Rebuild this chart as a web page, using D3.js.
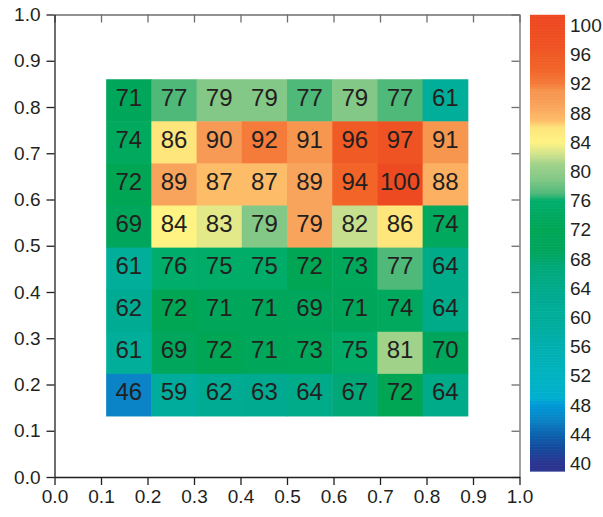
<!DOCTYPE html>
<html><head><meta charset="utf-8">
<script src="https://cdn.jsdelivr.net/npm/d3@7"></script>
<style>
html,body{margin:0;padding:0;background:#fff;}
text{font-family:"Liberation Sans",Arial,Helvetica,sans-serif;fill:#231f20;}
</style></head>
<body>
<svg id="chart" width="603" height="517"></svg>
<script>
// Cell labels (rows top to bottom, columns left to right)
const cellLabels = [
  [71,77,79,79,77,79,77,61],
  [74,86,90,92,91,96,97,91],
  [72,89,87,87,89,94,100,88],
  [69,84,83,79,79,82,86,74],
  [61,76,75,75,72,73,77,64],
  [62,72,71,71,69,71,74,64],
  [61,69,72,71,73,75,81,70],
  [46,59,62,63,64,67,72,64]
];
// Values used for colouring (as drawn in the reference)
const cellColorValues = [
  [71,77,79,79,77,79,77,61],
  [74,86,90,92,91,96,97,91],
  [72,89,87,87,89,94,100,88],
  [69,84,83,79,89,82,86,74],
  [61,76,75,75,72,73,77,64],
  [62,72,71,71,69,71,74,64],
  [61,69,72,71,73,75,81,70],
  [46,59,62,63,64,67,72,64]
];
const axisTicks = [0,0.1,0.2,0.3,0.4,0.5,0.6,0.7,0.8,0.9,1.0];
const colorbarTicks = [40,44,48,52,56,60,64,68,72,76,80,84,88,92,96,100];
const colorStops = [40,42,44,46,48,49,52,56,59,61,62,63,64,67,69,71,72,73,74,75,76,77,79,81,82,83,84,86,87,88,89,90,91,92,94,96,97,100];
const colorHex = ["#2b3590","#16489c","#0b62ae","#0a84c6","#0098d6","#00b0d0","#00b3c0","#00b0b0","#00ad9d","#00ae99","#00ab94","#00aa90","#00ab8a","#00a878","#00a65c","#00a65a","#00a654","#00a85c","#00a95e","#00ad68","#00ad6a","#4fb97a","#83c886","#a0d28a","#c5df8e","#e3e888","#fff383","#fee57c","#fdbd68","#fcb062","#f9a45c","#f79a55","#f7974f","#f47b3a","#f26428","#f05a25","#ef5323","#ee4a22"];
// Heatmap extent in data units
const cellX0 = 1/9, cellX1 = 8/9, cellY0 = 0.132, cellY1 = 0.86;

const svg = d3.select("#chart");
const x = d3.scaleLinear().domain([0,1]).range([54.5,519.5]);
const y = d3.scaleLinear().domain([0,1]).range([477,14.5]);
const color = d3.scaleLinear().domain(colorStops).range(colorHex).interpolate(d3.interpolateRgb).clamp(true);

const nR = cellLabels.length, nC = cellLabels[0].length;
const cw = (cellX1-cellX0)/nC, ch = (cellY1-cellY0)/nR;
const cells = [];
cellLabels.forEach((row,r)=>row.forEach((v,c)=>cells.push({r,c,v,cv:cellColorValues[r][c]})));

const g = svg.append("g");
g.selectAll("rect.cell").data(cells).join("rect")
  .attr("class","cell")
  .attr("x",d=>x(cellX0+d.c*cw))
  .attr("y",d=>y(cellY1-d.r*ch))
  .attr("width",d=>x(cellX0+(d.c+1)*cw)-x(cellX0+d.c*cw)+0.5)
  .attr("height",d=>y(cellY1-(d.r+1)*ch)-y(cellY1-d.r*ch)+0.5)
  .attr("fill",d=>color(d.cv));
g.selectAll("text.cell").data(cells).join("text")
  .attr("class","cell")
  .attr("x",d=>x(cellX0+(d.c+0.5)*cw))
  .attr("y",d=>(y(cellY1-d.r*ch)+y(cellY1-(d.r+1)*ch))/2+5.5)
  .attr("text-anchor","middle")
  .style("font-size","24px")
  .text(d=>d.v);

// Frame: top and right grey with inward ticks
const grey = "#6d6e71";
const topAx = svg.append("g").attr("transform",`translate(0,${y(1)})`)
  .call(d3.axisTop(x).tickValues(axisTicks).tickSizeInner(-8).tickSizeOuter(0).tickFormat(""));
topAx.selectAll("path,line").attr("stroke",grey).attr("stroke-width",1.3);
const rightAx = svg.append("g").attr("transform",`translate(${x(1)},0)`)
  .call(d3.axisRight(y).tickValues(axisTicks).tickSizeInner(-8).tickSizeOuter(0).tickFormat(""));
rightAx.selectAll("path,line").attr("stroke",grey).attr("stroke-width",1.3);

// Bottom and left axes
const bottomAx = svg.append("g").attr("transform",`translate(0,${y(0)})`)
  .call(d3.axisBottom(x).tickValues(axisTicks).tickSizeInner(8).tickSizeOuter(0).tickPadding(5).tickFormat(d3.format(".1f")));
bottomAx.selectAll("path,line").attr("stroke","#231f20").attr("stroke-width",1.3);
bottomAx.selectAll("text").style("font-size","19px").attr("fill","#231f20").attr("font-family","Liberation Sans, Arial, sans-serif");
const leftAx = svg.append("g").attr("transform",`translate(${x(0)},0)`)
  .call(d3.axisLeft(y).tickValues(axisTicks).tickSizeInner(8).tickSizeOuter(0).tickPadding(6).tickFormat(d3.format(".1f")));
leftAx.selectAll("path,line").attr("stroke","#231f20").attr("stroke-width",1.3);
leftAx.selectAll("text").style("font-size","19px").attr("fill","#231f20").attr("font-family","Liberation Sans, Arial, sans-serif");

// Colorbar
const cb = d3.scaleLinear().domain([40,100]).range([463,25]);
const cbLo = 38.9, cbHi = 101.4, step = 0.1;
const cbVals = d3.range(cbLo, cbHi, step);
svg.append("g").selectAll("rect").data(cbVals).join("rect")
  .attr("x",530).attr("width",35)
  .attr("y",d=>cb(Math.min(d+step,cbHi)))
  .attr("height",d=>cb(d)-cb(Math.min(d+step,cbHi))+0.6)
  .attr("fill",d=>color(d+step/2));
svg.append("g").selectAll("text").data(colorbarTicks).join("text")
  .attr("x",570).attr("y",d=>cb(d)+7)
  .style("font-size","19px")
  .text(d=>d);
</script>
</body></html>
